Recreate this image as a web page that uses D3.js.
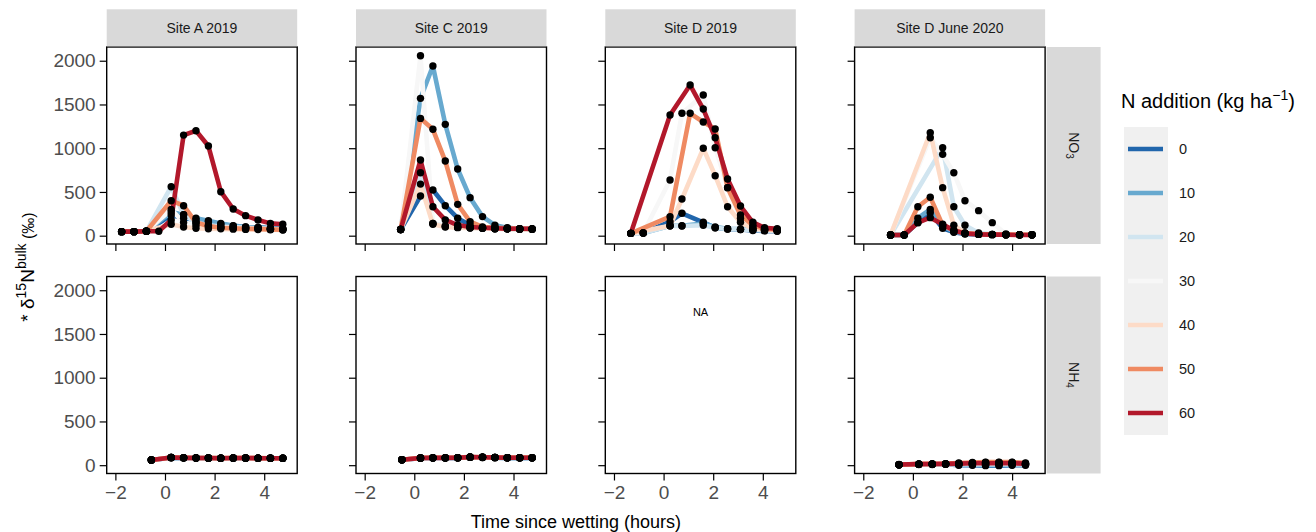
<!DOCTYPE html>
<html>
<head>
<meta charset="utf-8">
<script src="https://cdn.jsdelivr.net/npm/d3@7"></script>
<style>
  body { margin: 0; background: #fff; }
  text { font-family: "Liberation Sans", Arial, sans-serif; }
</style>
</head>
<body>
<script>
const width = 1316,
    height = 532;

const nLevels = [0, 10, 20, 30, 40, 50, 60];
const nColors = ["#2166ac", "#67a9cf", "#d1e5f0", "#f7f7f7", "#fddbc7", "#ef8a62", "#b2182b"];
const sites = ["Site A 2019", "Site C 2019", "Site D 2019", "Site D June 2020"];
const forms = ["NO3", "NH4"];
const xTicks = [-2, 0, 2, 4];
const yTicks = [0, 500, 1000, 1500, 2000];

// hours since wetting, per panel
const hoursA_NO3 = [-1.75, -1.25, -0.75, -0.25, 0.25, 0.75, 1.25, 1.75, 2.25, 2.75, 3.25, 3.75, 4.25, 4.75];
const hoursC_NO3 = [-0.55, 0.25, 0.75, 1.25, 1.75, 2.25, 2.75, 3.25, 3.75, 4.25, 4.75];
const hoursD19_NO3 = [-1.32, -0.82, 0.26, 0.74, 1.07, 1.6, 2.08, 2.58, 3.1, 3.6, 4.07, 4.58];
const hoursD20_NO3 = [-0.9, -0.35, 0.2, 0.7, 1.2, 1.65, 2.1, 2.65, 3.2, 3.75, 4.3, 4.8];
const hoursA_NH4 = [-0.55, 0.25, 0.75, 1.25, 1.75, 2.25, 2.75, 3.25, 3.75, 4.25, 4.75];
const hoursC_NH4 = [-0.5, 0.25, 0.75, 1.25, 1.75, 2.25, 2.75, 3.25, 3.75, 4.25, 4.75];
const hoursD20_NH4 = [-0.56, 0.24, 0.78, 1.32, 1.85, 2.4, 2.93, 3.47, 4.0, 4.54];

// one row per N level (0, 10, ... 60); null = not sampled
const siteA_NO3 = [
    [46, 46, 50, null, 236, 200, 180, 160, 130, 110, 100, 95, 85, 80],
    [46, 46, 50, null, 270, 240, 200, 170, 140, 115, 100, 95, 85, 80],
    [46, 46, 50, null, 560, 240, 150, 120, 105, 95, 90, 85, 75, 70],
    [46, 46, 50, null, 300, 150, 120, 100, 95, 90, 85, 80, 75, 70],
    [46, 46, 50, null, 130, 100, 85, 80, 78, 75, 72, 70, 68, 66],
    [46, 46, 50, null, 400, 343, 150, 110, 90, 85, 80, 78, 72, 68],
    [46, 46, 50, 50, 180, 1150, 1200, 1025, 503, 305, 229, 180, 141, 130]
];
const siteC_NO3 = [
    [70, 454, 522, 343, 200, 120, 95, 85, 80, 78, 75],
    [70, 1570, 1940, 1273, 762, 435, 218, 120, 90, 80, 78],
    [70, 720, 140, 110, 95, 90, 85, 80, 78, 75, 75],
    [70, 2057, 140, 105, 95, 90, 85, 80, 78, 75, 75],
    [70, 590, 130, 100, 92, 88, 85, 80, 78, 75, 75],
    [70, 1341, 1216, 853, 358, 160, 100, 90, 85, 80, 78],
    [70, 865, 331, 180, 122, 100, 90, 85, 80, 80, 80]
];
const siteD19_NO3 = [
    [27, 30, 160, 256, null, 153, 91, 77, 70, 60, 55, 50],
    [27, 30, 114, 114, null, 140, 100, 80, 75, 70, 62, 58],
    [27, 30, 114, 110, null, 120, 91, 77, 70, 65, 60, 55],
    [27, 30, 637, 1399, null, 1608, 1006, 549, 200, 100, 75, 65],
    [27, null, 114, 419, null, 999, 686, 331, 153, 80, 70, 60],
    [27, null, 217, null, 1399, 1300, 1219, 549, 237, 120, 80, 70],
    [27, null, 1379, null, 1722, 1448, 1120, 648, 339, 153, 90, 80]
];
const siteD20_NO3 = [
    [8, 8, 149, 263, 85, 40, 20, 15, 12, 10, 10, 10],
    [8, 8, 200, 300, 110, 45, 25, 15, 12, 10, 10, 10],
    [8, null, null, null, 1006, 331, 120, 30, 15, 12, 10, 10],
    [8, null, null, 1120, 930, 720, 400, 286, 149, 20, 10, 10],
    [8, null, null, 1177, 549, 120, 30, 20, 15, 12, 10, 10],
    [8, 8, 331, 439, 120, 60, 30, 20, 15, 12, 10, 10],
    [8, 8, 149, 206, 130, 60, 25, 15, 12, 10, 8, 8]
];
const siteA_NH4 = [
    [60, 86, 84, 82, 80, 80, 80, 80, 80, 80, 78],
    [60, 86, 84, 82, 80, 80, 80, 80, 80, 80, 78],
    [60, 88, 84, 82, 82, 80, 82, 82, 80, 80, 80],
    [60, 88, 84, 82, 82, 80, 82, 82, 80, 80, 80],
    [60, 88, 85, 83, 82, 81, 82, 82, 81, 80, 80],
    [60, 88, 85, 83, 82, 81, 82, 82, 81, 80, 80],
    [60, 88, 84, 82, 82, 80, 82, 82, 80, 80, 80]
];
const siteC_NH4 = [
    [62, 80, 82, 82, 84, 90, 88, 86, 84, 84, 84],
    [62, 80, 82, 82, 84, 90, 88, 86, 84, 84, 84],
    [62, 82, 84, 84, 85, 92, 90, 88, 85, 85, 85],
    [62, 82, 84, 84, 85, 92, 90, 88, 85, 85, 85],
    [62, 84, 85, 85, 86, 93, 91, 89, 86, 86, 86],
    [62, 84, 85, 85, 86, 93, 91, 89, 86, 86, 86],
    [62, 82, 84, 84, 85, 92, 90, 88, 85, 85, 85]
];
const siteD20_NH4 = [
    [5, 8, 8, 10, 0, 0, -5, -5, 0, 0],
    [5, 10, 10, 12, 5, 5, 0, 0, 5, 5],
    [5, 10, 12, 15, 10, 10, 10, 10, 10, 10],
    [5, 12, 12, 15, 15, 20, 25, 25, 20, 15],
    [5, 12, 15, 15, 20, 25, 30, 30, 30, 20],
    [5, 15, 15, 18, 25, 30, 35, 35, 35, 25],
    [8, 12, 14, 15, 18, 22, 22, 22, 22, 18]
];

// panel grid: row = N form, col = site
const panels = [
    {row: 0, col: 0, hours: hoursA_NO3, values: siteA_NO3},
    {row: 0, col: 1, hours: hoursC_NO3, values: siteC_NO3},
    {row: 0, col: 2, hours: hoursD19_NO3, values: siteD19_NO3},
    {row: 0, col: 3, hours: hoursD20_NO3, values: siteD20_NO3},
    {row: 1, col: 0, hours: hoursA_NH4, values: siteA_NH4},
    {row: 1, col: 1, hours: hoursC_NH4, values: siteC_NH4},
    {row: 1, col: 2, hours: null, values: null},
    {row: 1, col: 3, hours: hoursD20_NH4, values: siteD20_NH4}
];

const panelLeft = 106.7, panelStep = 249.3, pw = 190.5, ph = 197;
const rowTop = [47, 276.5];

const x = d3.scaleLinear().domain([-2.35, 5.33]).range([0, pw]);
const y = d3.scaleLinear().domain([-95, 2157]).range([ph, 0]);
const color = d3.scaleOrdinal().domain(nLevels).range(nColors);

const svg = d3.select("body").append("svg")
    .attr("width", width)
    .attr("height", height);

const line = d3.line()
    .x(d => x(d[0]))
    .y(d => y(d[1]));

panels.forEach(function (p) {
    const g = svg.append("g")
        .attr("transform", `translate(${panelLeft + p.col * panelStep},${rowTop[p.row]})`);

    g.append("rect")
        .attr("width", pw).attr("height", ph)
        .attr("fill", "#fff");

    if (p.values) {
        const series = p.values.map((vals, i) => ({
            level: nLevels[i],
            pts: vals.map((v, j) => [p.hours[j], v]).filter(d => d[1] !== null)
        }));

        g.selectAll("path.series")
            .data(series)
            .enter().append("path")
            .attr("class", "series")
            .attr("d", d => line(d.pts))
            .attr("fill", "none")
            .attr("stroke", d => color(d.level))
            .attr("stroke-width", 4.6)
            .attr("stroke-linejoin", "round");

        g.selectAll("circle")
            .data(series.flatMap(s => s.pts))
            .enter().append("circle")
            .attr("cx", d => x(d[0]))
            .attr("cy", d => y(d[1]))
            .attr("r", 3.7)
            .attr("fill", "#000");
    } else {
        g.append("text")
            .attr("x", pw / 2)
            .attr("y", 39)
            .attr("text-anchor", "middle")
            .attr("font-size", 11)
            .attr("fill", "#000")
            .text("NA");
    }

    // axes
    const yAxis = d3.axisLeft(y).tickValues(yTicks).tickSize(7).tickPadding(4)
        .tickFormat(p.col === 0 ? d3.format("d") : "");
    const ya = g.append("g").call(yAxis);
    const xAxis = d3.axisBottom(x).tickValues(xTicks).tickSize(7).tickPadding(5)
        .tickFormat(p.row === 1 ? d3.format("d") : "");
    const xa = g.append("g").attr("transform", `translate(0,${ph})`).call(xAxis);
    [ya, xa].forEach(a => {
        a.select(".domain").remove();
        a.selectAll("line").attr("stroke", "#000").attr("stroke-width", 1.2);
        a.selectAll("text").attr("font-size", 19).attr("fill", "#4d4d4d")
            .attr("font-family", "Liberation Sans, Arial, sans-serif");
    });

    g.append("rect")
        .attr("width", pw).attr("height", ph)
        .attr("fill", "none")
        .attr("stroke", "#000")
        .attr("stroke-width", 1.4);
});

// top strips
sites.forEach(function (s, i) {
    const sx = panelLeft + i * panelStep;
    svg.append("rect")
        .attr("x", sx).attr("y", 9.3)
        .attr("width", pw).attr("height", 37)
        .attr("fill", "#d9d9d9");
    svg.append("text")
        .attr("x", sx + pw / 2).attr("y", 28)
        .attr("text-anchor", "middle")
        .attr("dominant-baseline", "central")
        .attr("font-size", 14)
        .attr("fill", "#1a1a1a")
        .text(s);
});

// right strips
forms.forEach(function (f, i) {
    const sx = panelLeft + 3 * panelStep + pw + 1.5;
    svg.append("rect")
        .attr("x", sx).attr("y", rowTop[i])
        .attr("width", 54).attr("height", ph)
        .attr("fill", "#d9d9d9");
    const t = svg.append("text")
        .attr("transform", `translate(${sx + 27},${rowTop[i] + ph / 2}) rotate(90)`)
        .attr("text-anchor", "middle")
        .attr("dominant-baseline", "central")
        .attr("font-size", 14)
        .attr("fill", "#1a1a1a");
    t.append("tspan").text(f.slice(0, 2));
    t.append("tspan").attr("font-size", 10).attr("dy", 4).text(f.slice(2));
});

// axis titles
svg.append("text")
    .attr("x", panelLeft + (3 * panelStep + pw) / 2)
    .attr("y", 528)
    .attr("text-anchor", "middle")
    .attr("font-size", 18)
    .attr("fill", "#000")
    .text("Time since wetting (hours)");

const yt = svg.append("text")
    .attr("transform", "translate(34,267) rotate(-90)")
    .attr("text-anchor", "middle")
    .attr("font-size", 19)
    .attr("fill", "#000");
yt.append("tspan").text("* \u03b4");
yt.append("tspan").attr("font-size", 14).attr("dy", -8).text("15");
yt.append("tspan").attr("dy", 8).text("N");
yt.append("tspan").attr("font-size", 14).attr("dy", -8).text("bulk");
yt.append("tspan").attr("font-size", 16).attr("dy", 8).text(" (\u2030)");

// legend
const legend = svg.append("g").attr("transform", "translate(1124,0)");
const lt = legend.append("text")
    .attr("x", -3).attr("y", 108)
    .attr("font-size", 20)
    .attr("fill", "#000");
lt.append("tspan").text("N addition (kg ha");
lt.append("tspan").attr("font-size", 14).attr("dy", -8).text("\u22121");
lt.append("tspan").attr("dy", 8).text(")");

legend.append("rect")
    .attr("x", 0).attr("y", 127)
    .attr("width", 44).attr("height", 308)
    .attr("fill", "#f0f0f0");

const keys = legend.selectAll("g.key")
    .data(nLevels)
    .enter().append("g")
    .attr("class", "key")
    .attr("transform", (d, i) => `translate(0,${149 + i * 44})`);
keys.append("line")
    .attr("x1", 4).attr("x2", 39)
    .attr("stroke", d => color(d))
    .attr("stroke-width", 4.6);
keys.append("text")
    .attr("x", 55)
    .attr("dominant-baseline", "central")
    .attr("font-size", 14.5)
    .attr("fill", "#1a1a1a")
    .text(d => d);
</script>
</body>
</html>
